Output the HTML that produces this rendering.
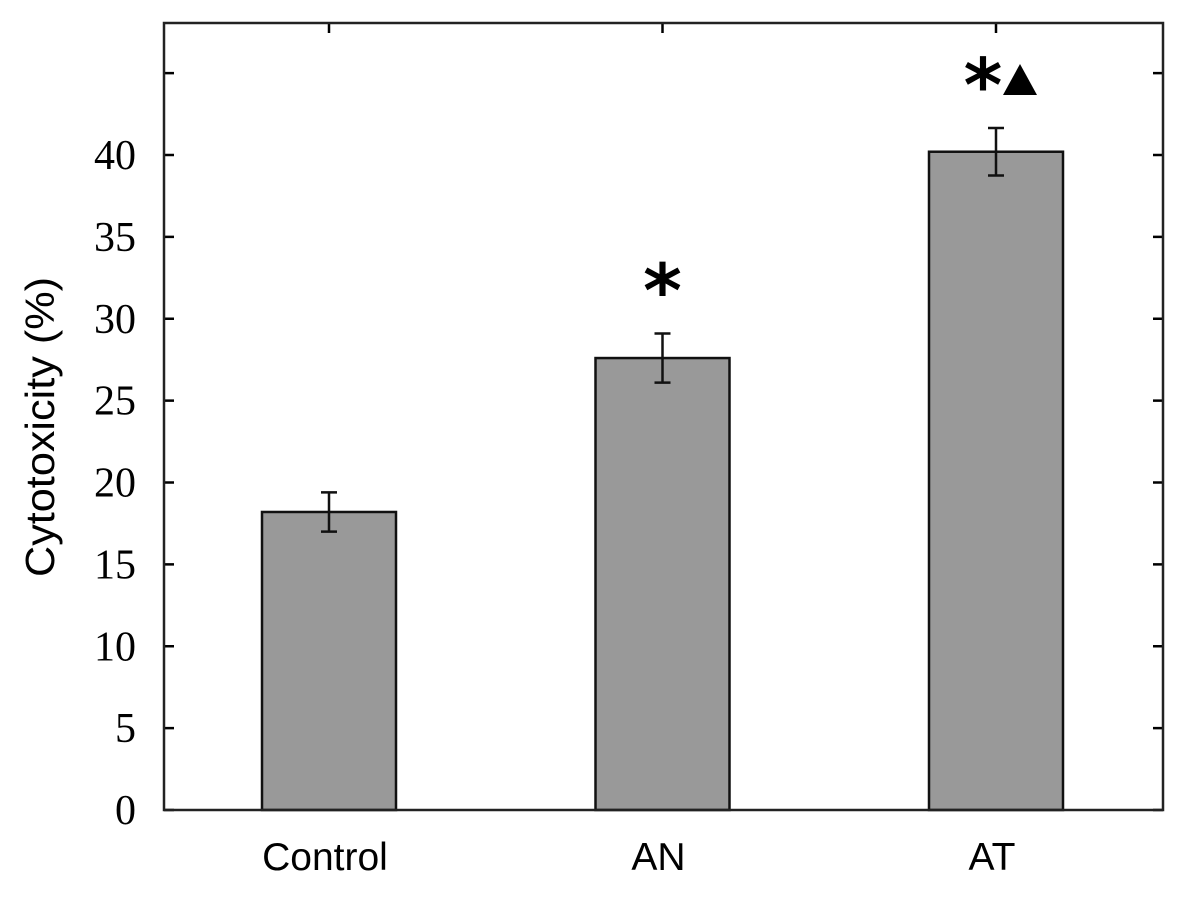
<!DOCTYPE html>
<html><head><meta charset="utf-8"><style>
html,body{margin:0;padding:0;background:#fff;}
svg{display:block;}
</style></head><body>
<svg id="chart" width="1181" height="907" xmlns="http://www.w3.org/2000/svg">
<text transform="translate(54,427) rotate(-90)" text-anchor="middle" font-family="Liberation Sans, sans-serif" font-size="41" textLength="300" lengthAdjust="spacingAndGlyphs" fill="#000">Cytotoxicity (%)</text>
</svg>
<script>
const categories = ["Control","AN","AT"];
const values = [18.2, 27.6, 40.2];
const errors = [1.2, 1.5, 1.45];
const stars = [false, true, true];
const triangles = [false, false, true];
const yTicks = [0,5,10,15,20,25,30,35,40,45];
const yTickLabels = ["0","5","10","15","20","25","30","35","40",""];

const L=164, R=1163, T=23, B=810;
const y = v => B - v*(B-155)/40;
const x = i => 329 + i*333.5;
const bw = 134;
const svg = document.getElementById('chart');
const NS = 'http://www.w3.org/2000/svg';
function mk(tag, attrs){const e=document.createElementNS(NS,tag);for(const k in attrs)e.setAttribute(k,attrs[k]);svg.appendChild(e);return e;}

yTicks.forEach((t,i)=>{
  const yy=y(t);
  const a=mk('line',{x1:L,x2:L+10,y1:yy,y2:yy,stroke:'#000','stroke-width':2.5});
  
  
  const b=mk('line',{x1:R-10,x2:R,y1:yy,y2:yy,stroke:'#000','stroke-width':2.5});
  
  
  if(yTickLabels[i]){
    const tx=mk('text',{x:136,y:yy+14,'text-anchor':'end','font-family':'Liberation Serif, serif','font-size':42,fill:'#000'});
    tx.textContent=yTickLabels[i];
    
    
  }
});

categories.forEach((c,i)=>{
  const cx=x(i);
  const bar=mk('rect',{x:cx-bw/2,y:y(values[i]),width:bw,height:B-y(values[i]),fill:'#999',stroke:'#111','stroke-width':2.5});
  
  
  const t1=y(values[i]+errors[i]), t2=y(values[i]-errors[i]);
  const eg=mk('path',{d:`M${cx},${t1}V${t2}M${cx-8},${t1}H${cx+8}M${cx-8},${t2}H${cx+8}`,stroke:'#111','stroke-width':2.5,fill:'none'});
  
  
  const tt=mk('line',{x1:cx,x2:cx,y1:T,y2:T+10,stroke:'#000','stroke-width':2.5});
  
  
  const lab=mk('text',{x:cx-4,y:870,'text-anchor':'middle','font-family':'Liberation Sans, sans-serif','font-size':39,fill:'#000'});
  lab.textContent=c;
  
  
  const tri=triangles[i];
  const mc=t1-47;
  if(stars[i]){
    const m=mk('text',{x:tri?cx-13:cx,y:mc+30,'text-anchor':'middle','font-family':'DejaVu Sans, sans-serif','font-weight':'bold','font-size':74,fill:'#000'});
    m.textContent='*';
    
    
  }
  if(tri){
    const p=mk('path',{d:`M${cx+24},${mc-17}L${cx+41},${mc+14}L${cx+7},${mc+14}Z`,fill:'#000'});
    
    
  }
});

const frame=mk('rect',{x:L,y:T,width:R-L,height:B-T,fill:'none',stroke:'#222','stroke-width':2.5});


</script>
</body></html>
